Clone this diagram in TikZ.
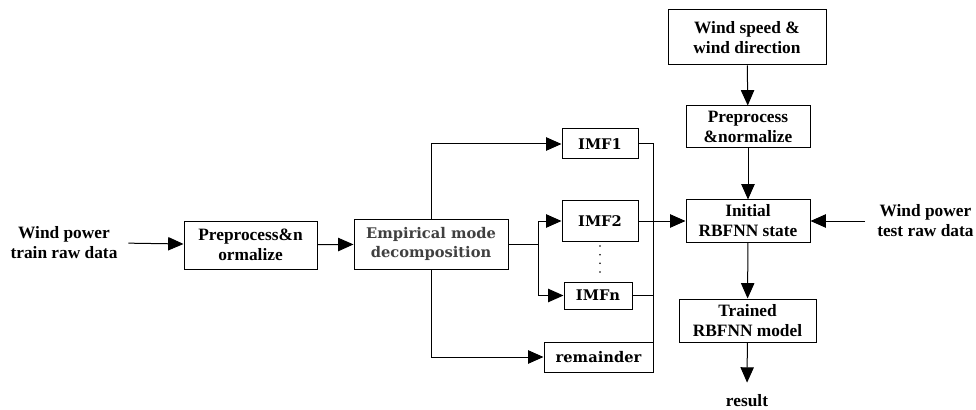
\documentclass[tikz,border=0pt]{standalone}
\usepackage{fontspec}
\setmainfont{Liberation Serif}
\newfontfamily\emdfont{DejaVu Serif}
\usetikzlibrary{arrows.meta,positioning}

\tikzset{
    box/.style 2 args = {draw, line width=0.75pt, align=center, inner sep=1pt,
        minimum width=#1*0.75pt, minimum height=#2*0.75pt,
        font=\fontsize{13}{15}\selectfont\bfseries},
    emdbox/.style 2 args = {box={#1}{#2}, font=\fontsize{11}{14.5}\selectfont\emdfont\bfseries},
    label/.style = {align=center, inner sep=0pt,
        font=\fontsize{13}{15}\selectfont\bfseries},
    arr/.style = {line width=0.75pt, -{Triangle[length=11.5pt,width=10pt]}},
    wire/.style = {line width=0.75pt}
}

\begin{document}
\begin{tikzpicture}[x=0.75pt, y=-0.75pt]
\useasboundingbox (0,0) rectangle (976,410);

% training branch
\node[label] (train) at (64,243) {Wind power\\train raw data};
\node[box={133}{48}] (prep1) at (250.5,245) {Preprocess\&n\\ormalize};
\node[emdbox={154}{50}, text=black!75] (emd) at (431,244) {Empirical mode\\decomposition};

% decomposition outputs
\node[emdbox={76}{30}] (imf1) at (600,144) {IMF1};
\node[emdbox={76}{41}] (imf2) at (600,221) {IMF2};
\node[emdbox={68}{27}] (imfn) at (598,295.5) {IMFn};
\node[emdbox={109}{30}] (rem) at (598.5,357) {remainder};
\coordinate (split) at (538,244);

% network side
\node[box={158}{55}] (wind) at (747,37.5) {Wind speed \&\\wind direction};
\node[box={124}{42}] (prep2) at (748,127) {Preprocess\\\&normalize};
\node[box={124}{42}] (init) at (748,221) {Initial\\RBFNN state};
\node[box={137}{43}] (trained) at (747.5,320.5) {Trained\\RBFNN model};
\node[label] (result) at (747,401) {result};
\node[label, anchor=west] (test) at (877,221) {Wind power\\test raw data};

\draw[arr, shorten <=8pt] (train.east) -- (prep1);
\draw[arr] (prep1) -- (emd);
\draw[arr] (emd.north) |- (imf1.west);
\draw[arr] (emd.south) |- (rem.west);
\draw[wire] (emd.east) -- (split);
\draw[arr] (split) |- (imf2.west);
\draw[arr] (split) |- (imfn.west);
\draw[line width=1.3pt, line cap=round, dash pattern=on 0pt off 6.5pt, shorten <=3pt, shorten >=4pt]
    (imf2.south) -- (imf2.south |- imfn.north);

% collect the modes
\draw[wire] (imf1.east) -| (rem.north east);
\draw[wire] (imfn.east) -- (imfn.east -| rem.east);
\draw[arr] (imf2) -- (init);

\draw[arr] (wind) -- (prep2);
\draw[arr] (prep2) -- (init);
\draw[arr, shorten <=9pt] (test.west) -- (init.east);
\draw[arr] (init) -- (trained);
\draw[arr, shorten >=9pt] (trained) -- (result.north);
\end{tikzpicture}
\end{document}
